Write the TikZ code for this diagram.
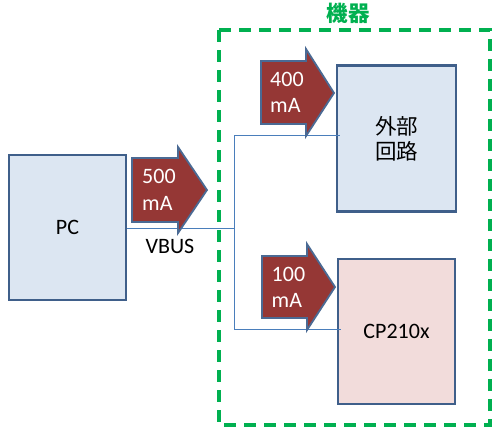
\documentclass[tikz,border=0pt]{standalone}
\usepackage{fontspec}
\setmainfont{Carlito}
\newfontfamily\cjkfont{Noto Sans CJK JP}
\definecolor{boxblue}{HTML}{DCE6F2}
\definecolor{boxpink}{HTML}{F2DCDB}
\definecolor{boxedge}{HTML}{3F5F8A}
\definecolor{arrowfill}{HTML}{953735}
\definecolor{arrowedge}{HTML}{4A6A94}
\definecolor{wireblue}{HTML}{4A7EBB}
\definecolor{devgreen}{HTML}{00B050}
\begin{document}
\begin{tikzpicture}[x=1pt,y=-1pt,
  blockbox/.style={draw=boxedge,line width=2.5pt,minimum width=119pt,minimum height=146pt,inner sep=0pt,font=\fontsize{22}{25}\selectfont,align=center},
  flowarrow/.style={fill=arrowfill,draw=arrowedge,line width=1.8pt,line join=miter},
  arrowtext/.style={text=white,font=\fontsize{22}{26.7}\selectfont,align=left,anchor=west,inner sep=0pt},
  wire/.style={draw=wireblue,line width=1pt}]
\useasboundingbox (0,0) rectangle (503,434);
% device frame
\draw[devgreen,line width=3.5pt,dash pattern=on 12pt off 8pt] (219,30) rectangle (490,425);
\node[text=devgreen,font=\cjkfont\bfseries\fontsize{21.5}{24}\selectfont] (devlabel) at (348,13) {機器};
% boxes
\node[blockbox,fill=boxblue,minimum width=117pt,minimum height=145pt] (pc) at (67.5,227.5) {PC};
\node[blockbox,fill=boxblue,font=\cjkfont\fontsize{21.5}{25}\selectfont] (ext) at (396.5,138.5) {外部\\回路};
\node[blockbox,fill=boxblue,minimum width=117pt,minimum height=145pt,fill=boxpink] (cp) at (396.5,331.5) {CP210x};
% wires
\coordinate (jmid) at (234,228);
\coordinate (jtop) at (234,135);
\coordinate (jbot) at (234,329);
\draw[wire] (pc.east |- jmid) -- (jmid);
\draw[wire] (jtop) -- (jbot);
\draw[wire] (jtop) -- ([xshift=4pt]ext.west |- jtop);
\draw[wire] (jbot) -- ([xshift=4pt]cp.west |- jbot);
\node[font=\fontsize{22}{25}\selectfont] (vbus) at (170,246) {VBUS};
% current arrows
\draw[flowarrow] (132,158) -- (178,158) -- (178,147) -- (207,190) -- (178,233) -- (178,222) -- (132,222) -- cycle;
\node[arrowtext] (a500) at (142,190) {500\\mA};
\draw[flowarrow] (261,61) -- (306,61) -- (306,49) -- (334,93) -- (306,136) -- (306,124) -- (261,124) -- cycle;
\node[arrowtext] (a400) at (270,92.5) {400\\mA};
\draw[flowarrow] (262,256) -- (307,256) -- (307,244) -- (335,287) -- (307,330) -- (307,318) -- (262,318) -- cycle;
\node[arrowtext] (a100) at (271.5,287.5) {100\\mA};
\end{tikzpicture}
\end{document}
